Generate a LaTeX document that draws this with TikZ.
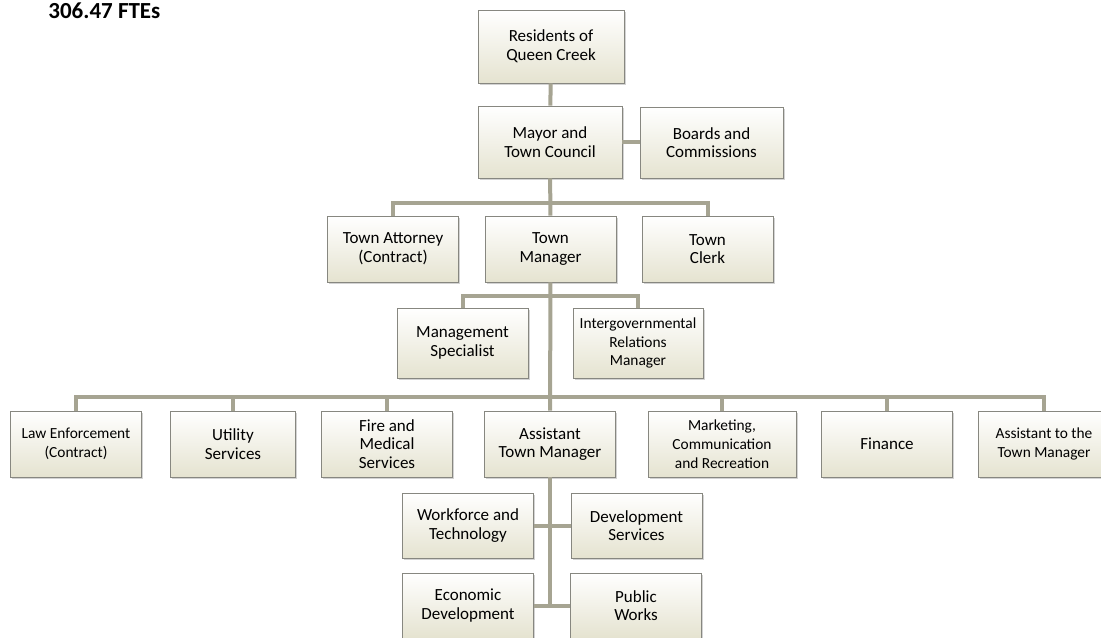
\documentclass[tikz,border=0pt]{standalone}
\usepackage{fontspec}
\setmainfont{Carlito}
\usetikzlibrary{shadows}
\definecolor{boxline}{RGB}{135,135,128}
\definecolor{boxbot}{RGB}{229,227,208}
\definecolor{linkgray}{RGB}{166,164,146}

\begin{document}
\begin{tikzpicture}[x=0.5pt,y=-0.5pt,
  unit/.style={draw=boxline,top color=white,bottom color=boxbot,minimum width=65.5pt,minimum height=33pt,inner sep=1pt,align=center,font=\fontsize{8.5}{9.3}\selectfont,drop shadow={shadow xshift=0.8pt,shadow yshift=-1.2pt,opacity=0.35}},
  small/.style={font=\fontsize{7.7}{9.4}\selectfont},
  link/.style={draw=linkgray,line width=2pt}]
\useasboundingbox (0,0) rectangle (1101,637);
\node[anchor=north west,inner sep=0pt,font=\bfseries\fontsize{11.5}{12}\selectfont] (fte) at (48,2) {306.47 FTEs};
\node[unit,minimum width=73pt,minimum height=36.5pt] (res) at (551,46.5) {Residents of\\Queen Creek};
\node[unit,minimum width=72pt,minimum height=36pt] (mayor) at (550,142) {Mayor and\\Town Council};
\node[unit,minimum width=71.5pt,minimum height=35.5pt] (boards) at (711.5,142.5) {Boards and\\Commissions};
\node[unit] (attorney) at (393,249) {Town Attorney\\(Contract)};
\node[unit] (manager) at (550.5,249) {Town\\Manager};
\node[unit] (clerk) at (707.5,249) {Town\\Clerk};
\node[unit,minimum height=35pt] (mgmt) at (462.5,343) {Management\\Specialist};
\node[unit,small,minimum width=65pt,minimum height=35pt] (intergov) at (638,343) {Intergovernmental\\Relations\\Manager};
\node[unit,small] (law) at (76,444) {Law Enforcement\\(Contract)};
\node[unit,minimum width=62.5pt] (utility) at (233,444) {Utility\\Services};
\node[unit] (fire) at (387,444) {Fire and\\Medical\\Services};
\node[unit] (atm) at (550,444) {Assistant\\Town Manager};
\node[unit,small,minimum width=74pt] (marketing) at (722,444) {Marketing,\\Communication\\and Recreation};
\node[unit] (finance) at (887,444) {Finance};
\node[unit,small] (atown) at (1044,444) {Assistant to the\\Town Manager};
\node[unit,minimum height=32.5pt] (workforce) at (468,525.5) {Workforce and\\Technology};
\node[unit,minimum height=32.5pt] (devserv) at (636.5,525.5) {Development\\Services};
\node[unit,minimum height=32.5pt] (econ) at (468,605.5) {Economic\\Development};
\node[unit,minimum height=32.5pt] (works) at (636,605.5) {Public\\Works};
\coordinate (tier1) at (550,203);
\coordinate (tier2) at (550,296);
\coordinate (tier3) at (550,397);
\draw[link] (res) -- (mayor);
\draw[link] (mayor.east) -- (mayor.east -| boards.west);
\draw[link] (mayor) -- (manager);
\draw[link] (attorney.north) |- (tier1) -| (clerk.north);
\draw[link] (mgmt.north) |- (tier2) -| (intergov.north);
\draw[link] (manager) -- (atm);
\draw[link] (law.north) |- (tier3) -| (atown.north);
\draw[link] (utility.north) -- (utility.north |- tier3);
\draw[link] (fire.north) -- (fire.north |- tier3);
\draw[link] (marketing.north) -- (marketing.north |- tier3);
\draw[link] (finance.north) -- (finance.north |- tier3);
\draw[link] (atm) -- (atm.south |- econ.east);
\draw[link] (workforce) -- (devserv);
\draw[link] (econ) -- (works);
\end{tikzpicture}
\end{document}
